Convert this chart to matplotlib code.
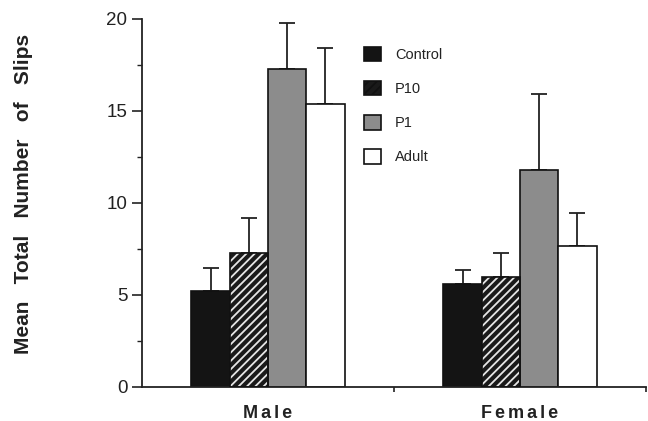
import numpy as np
import matplotlib
matplotlib.use('Agg')
import matplotlib.pyplot as plt
from matplotlib.patches import Patch

groups = ['Male', 'Female']
series = ['Control', 'P10', 'P1', 'Adult']
means = {
    'Control': [5.2, 5.6],
    'P10': [7.3, 6.0],
    'P1': [17.3, 11.8],
    'Adult': [15.4, 7.65],
}
errs = {
    'Control': [1.25, 0.75],
    'P10': [1.9, 1.3],
    'P1': [2.5, 4.1],
    'Adult': [3.0, 1.8],
}

plt.rcParams['font.family'] = ['Liberation Sans', 'DejaVu Sans']
plt.rcParams['hatch.linewidth'] = 1.3

fig = plt.figure(figsize=(6.48, 4.21), dpi=100)
ax = fig.add_axes([0.2191, 0.0808, 0.7778, 0.8741])

x = np.arange(len(groups))
width = 0.152
offsets = (np.arange(len(series)) - 1.5) * width

faces = {'Control': '#141414', 'P10': '#1a1a1a', 'P1': '#8c8c8c', 'Adult': 'white'}

for i, s in enumerate(series):
    pos = x + offsets[i]
    if s == 'P10':
        # white hatch on black, then black outline
        ax.bar(pos, means[s], width, color=faces[s], edgecolor='#e6e6e6',
               hatch='////', linewidth=0, zorder=2)
        ax.bar(pos, means[s], width, fill=False, edgecolor='#111111',
               linewidth=1.2, zorder=3)
    else:
        ax.bar(pos, means[s], width, color=faces[s], edgecolor='#111111',
               linewidth=1.2, zorder=2)
    ax.errorbar(pos, means[s], yerr=[np.zeros(len(groups)), errs[s]],
                fmt='none', ecolor='#222222', elinewidth=1.3, capsize=6,
                capthick=1.3, zorder=1)

ax.set_xlim(-0.5, 1.5)
ax.set_ylim(0, 20)
ax.set_yticks([0, 5, 10, 15, 20])
ax.set_yticks([2.5, 7.5, 12.5, 17.5], minor=True)
ax.set_xticks([0.5, 1.5])
ax.set_xticklabels([])
ax.tick_params(axis='y', which='major', length=7, width=1.2, labelsize=13.5,
               pad=3.5, colors='#222222')
ax.tick_params(axis='y', which='minor', length=3.5, width=1.0, colors='#222222')
ax.tick_params(axis='x', length=3.5, width=1.2, colors='#222222')

for sp in ['top', 'right']:
    ax.spines[sp].set_visible(False)
for sp in ['left', 'bottom']:
    ax.spines[sp].set_linewidth(1.3)
    ax.spines[sp].set_color('#222222')

for xi, g in zip(x, groups):
    ax.text(xi, -1.0, '\u200a\u200a'.join(g), ha='center', va='top',
            fontsize=13, fontweight='bold', color='#222222')

fig.text(0.037, 0.54, 'Mean   Total   Number   of   Slips', rotation=90,
         ha='center', va='center', fontsize=15, fontweight='bold',
         color='#222222')

handles = []
for s in series:
    if s == 'P10':
        handles.append(Patch(facecolor=faces[s], edgecolor='#111111',
                             hatch='////', linewidth=1.2))
    else:
        handles.append(Patch(facecolor=faces[s], edgecolor='#111111',
                             linewidth=1.2))
leg = ax.legend(handles, series, loc='upper left',
                bbox_to_anchor=(0.414, 0.96), frameon=False, fontsize=10.5,
                handlelength=1.15, handleheight=1.15, labelspacing=1.3,
                handletextpad=1.0)
for t in leg.get_texts():
    t.set_color('#222222')

fig.savefig('out.png', dpi=100)
